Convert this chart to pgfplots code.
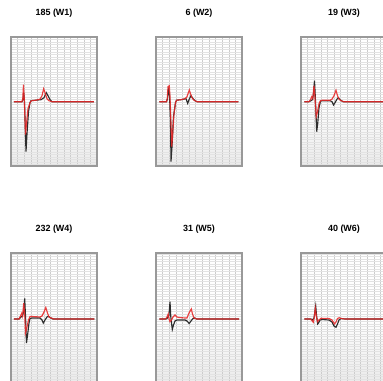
\documentclass[border=0pt]{standalone}
\usepackage{pgfplots}
\pgfplotsset{compat=1.18}
\usepackage{fontspec}
\setmainfont{Liberation Sans}
\definecolor{ecgred}{RGB}{232,40,40}
\definecolor{ecgblack}{RGB}{45,45,45}
\pgfplotsset{ecg/.style={
  scale only axis, width=86bp, height=129bp,
  xmin=0, xmax=86,
  xtick={0,6.615,...,86}, ytick={-70,-67.5,...,70},
  xmajorgrids, ymajorgrids,
  x grid style={gray!40, line width=0.45pt},
  y grid style={gray!22, line width=0.35pt},
  xticklabels={}, yticklabels={}, major tick length=0pt,
  axis line style={gray!80, line width=1.1pt},
  axis background/.style={top color=white, bottom color=gray!16, middle color=white},
  title style={font=\bfseries\fontsize{9}{10}\selectfont, at={(0.5,1)}, anchor=base, yshift=16bp},
  clip=true,
},
red/.style={ecgred, line width=1.15bp, opacity=0.88},
blk/.style={ecgblack, line width=1.15bp},
row1/.style={ymin=-64.3, ymax=64.7},
row2/.style={ymin=-63, ymax=66},
}
\begin{document}
\begin{tikzpicture}
\path[use as bounding box, clip] (0,0) rectangle (383bp,381bp);
% Panel 1
\begin{axis}[ecg, row1, at={(11bp,344bp)}, anchor=north west, title={185 (W1)}]
\addplot[blk] coordinates {(3,0)(11,0)(12,2)(12.7,9)(13.5,0)(15,-50)(16,-32)(17.5,-10)(19,-1)(20,1)(25,1.5)(30,2)(33,4)(35.3,9)(37,6)(39,2)(41,0)(83,0)};
\addplot[red] coordinates {(3,0)(11,0)(11.8,3)(12.5,17)(13.3,2)(14.5,-33)(15.5,-22)(17,-7)(19,-1)(20.5,1)(25,1.5)(29,2.5)(31,6)(32.7,13)(34,9)(36,3)(38,1)(41,0)(83,0)};
\end{axis}
% Panel 2
\begin{axis}[ecg, row1, at={(156bp,344bp)}, anchor=north west, title={6 (W2)}]
\addplot[blk] coordinates {(3.3,0)(10.5,0)(11.5,3)(12.5,12)(13.5,8)(14.5,-20)(15,-60)(16,-45)(17.5,-15)(19.5,-1)(20.5,1.5)(25,2)(30,3)(31.7,-1.7)(33,2)(35,6)(37,3)(39,1)(41,0)(82.3,0)};
\addplot[red] coordinates {(3.3,0)(10.5,0)(11.3,3)(12,15)(13.3,16)(14,5)(15.3,-30)(15.7,-45)(16.5,-35)(18,-12)(19.5,-1)(20.5,1.5)(25,2)(29,3)(31,5)(33.3,11.7)(34.5,8)(36,4)(38,1.5)(41,0)(82.3,0)};
\end{axis}
% Panel 3
\begin{axis}[ecg, row1, at={(301bp,344bp)}, anchor=north west, title={19 (W3)}]
\addplot[blk] coordinates {(3.3,0)(8,0)(10,1)(11.5,2)(12.5,8)(13.5,21)(14.3,5)(15.7,-30)(16.7,-22)(18,-6)(19.5,0.5)(21,1)(29,1)(31,0)(32.5,-3.3)(34,-1)(36,2.5)(37.3,4)(39,2)(42,0)(90,0)};
\addplot[red] coordinates {(3.3,0)(8,0)(9.5,2)(10.7,5)(11.8,3)(13,16)(14,4)(15.2,-15)(16.5,-10)(18,-2)(19.5,1)(21,1.5)(29,1.5)(31,2.5)(33,6)(35,11.5)(36.5,6)(38,2.5)(40,1)(43,0)(90,0)};
\end{axis}
% Panel 4
\begin{axis}[ecg, row2, at={(11bp,128bp)}, anchor=north west, title={232 (W4)}]
\addplot[blk] coordinates {(3,0)(8,0)(10,2)(11.5,3)(12.8,8)(13.7,20.5)(14.5,3)(15.5,-24)(16.7,-15)(18,-4)(19,0.5)(21,1)(29,1)(31,-1)(32.3,-4)(34,-1)(36,2)(37.3,2.8)(39,1.5)(42,0)(83.3,0)};
\addplot[red] coordinates {(3,0)(8,0)(9.5,3)(10.7,5.7)(11.5,3)(12.8,15.7)(13.8,3)(14.5,-14)(16,-8)(17.5,-1)(19,2.5)(21,2.5)(29,2)(31,3)(33,7)(34.8,11.5)(36.5,6)(38,2)(40,1)(43,0)(83.3,0)};
\end{axis}
% Panel 5
\begin{axis}[ecg, row2, at={(156bp,128bp)}, anchor=north west, title={31 (W5)}]
\addplot[blk] coordinates {(3.3,0)(10,0)(11.5,1)(13,4)(14,17.3)(14.8,2)(16.3,-10.5)(17.5,-6)(19,-2)(21,-1)(29,-1)(31,-2)(33.2,-4.5)(35,-2)(37,0.5)(38.5,1)(40.7,0)(83,0)};
\addplot[red] coordinates {(3.3,0)(9,0)(10.5,1)(12.2,5)(13,0)(14,-2.7)(15.5,-1)(17,2)(19,4)(21,2)(23,1.5)(29,1)(31,1)(33,6)(35.3,10)(36.5,5)(38,1)(41,0)(83,0)};
\end{axis}
% Panel 6
\begin{axis}[ecg, row2, at={(301bp,128bp)}, anchor=north west, title={40 (W6)}]
\addplot[blk] coordinates {(3.3,0)(10,0)(11.5,-1)(13,1)(14.7,13)(15.5,4)(16.7,-5)(17.5,-4)(19,-1)(21,-0.5)(28,-1)(31,-3)(33,-7)(35,-8.3)(36.5,-5)(38,-1)(40,0.5)(44,0)(90,0)};
\addplot[red] coordinates {(3.3,0)(9,0)(10.5,-1)(12.3,-3.3)(13.3,2)(14.3,10.7)(15.3,3)(16.5,-2.7)(18,-1)(20,0.7)(28,0.5)(31,-1)(33.5,-5)(35,-3)(36.5,0.5)(38.3,1.3)(40,0.5)(44,0)(90,0)};
\end{axis}
\end{tikzpicture}
\end{document}
